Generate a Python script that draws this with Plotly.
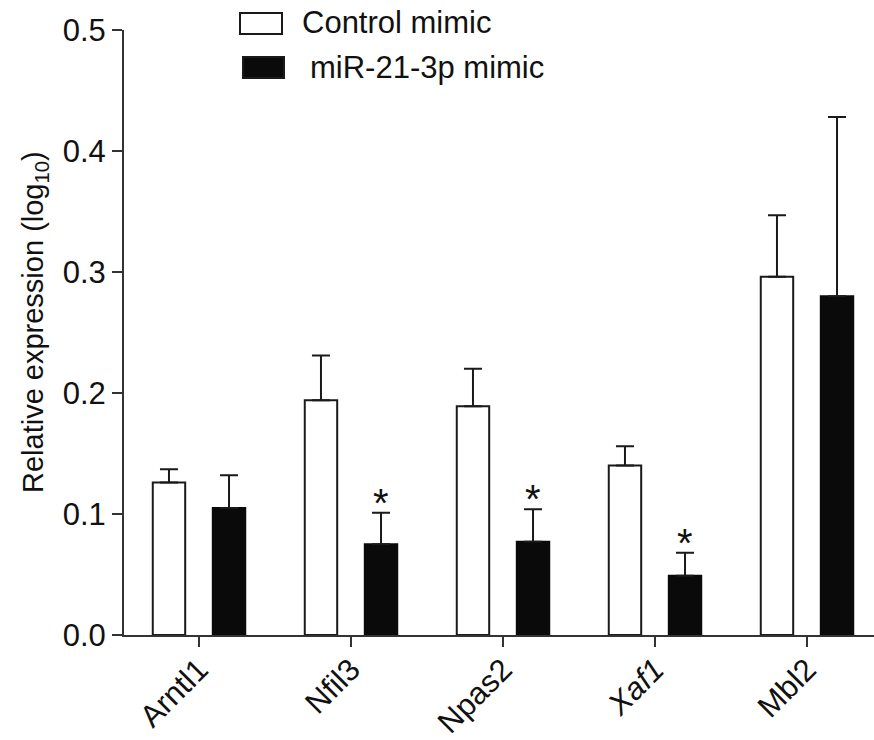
import plotly.graph_objects as go

# Gene categories and tick labels (Xaf1 rendered in italics)
genes = ["Arntl1", "Nfil3", "Npas2", "Xaf1", "Mbl2"]
gene_labels = ["Arntl1", "Nfil3", "Npas2", "<i>Xaf1</i>", "Mbl2"]

# Mean relative expression (log10) and upper SEM per group
control_mean = [0.126, 0.194, 0.189, 0.140, 0.296]
control_err = [0.011, 0.037, 0.031, 0.016, 0.051]
mir_mean = [0.105, 0.075, 0.077, 0.049, 0.280]
mir_err = [0.027, 0.026, 0.027, 0.019, 0.148]

# Significance marks over the miR-21-3p mimic bars
significance = ["", "*", "*", "*", ""]

FONT = "Liberation Sans, Arial, Helvetica, sans-serif"
INK = "#111111"
W, H = 874, 740
L, R, T, B = 124, 0, 30, 105

x_idx = list(range(len(genes)))

fig = go.Figure()
fig.add_trace(go.Bar(
    name="Control mimic", x=x_idx, y=control_mean,
    marker=dict(color="white", line=dict(color="#1a1a1a", width=2)),
    error_y=dict(type="data", symmetric=False, array=control_err,
                 arrayminus=[0] * len(genes), color="#1a1a1a",
                 thickness=2, width=9),
))
fig.add_trace(go.Bar(
    name="miR-21-3p mimic", x=x_idx, y=mir_mean,
    marker=dict(color="#0a0a0a", line=dict(color="#0a0a0a", width=2)),
    error_y=dict(type="data", symmetric=False, array=mir_err,
                 arrayminus=[0] * len(genes), color="#1a1a1a",
                 thickness=2, width=9),
))

# Asterisks above the error caps of significant bars
for i, mark in enumerate(significance):
    if mark:
        fig.add_annotation(
            x=i, y=mir_mean[i] + mir_err[i], xref="x", yref="y",
            text=mark, showarrow=False, xshift=30, yshift=-14,
            xanchor="center", yanchor="bottom",
            font=dict(family=FONT, size=40, color=INK),
        )

# Legend drawn as boxes + labels above the plot area
plot_w, plot_h = W - L - R, H - T - B


def px_x(p):
    return (p - L) / plot_w


def px_y(p):
    return (H - B - p) / plot_h


legend_items = [
    ("Control mimic", "white", (240, 282, 13, 34), 300, 23),
    ("miR-21-3p mimic", "#0a0a0a", (243, 284, 57, 78), 308, 67),
]
for label, fill, (x0, x1, y0, y1), tx, ty in legend_items:
    fig.add_shape(type="rect", xref="paper", yref="paper",
                  x0=px_x(x0), x1=px_x(x1), y0=px_y(y1), y1=px_y(y0),
                  fillcolor=fill, line=dict(color="#1a1a1a", width=2))
    fig.add_annotation(x=px_x(tx), y=px_y(ty), xref="paper", yref="paper",
                       text=label, showarrow=False, xanchor="left",
                       yanchor="middle",
                       font=dict(family=FONT, size=31, color=INK))

# Y-axis title placed as a rotated annotation left of the tick labels
fig.add_annotation(
    x=px_x(35), y=px_y(322), xref="paper", yref="paper",
    text="Relative expression (log<sub>10</sub>)", textangle=-90,
    showarrow=False, xanchor="center", yanchor="middle",
    font=dict(family=FONT, size=29, color=INK),
)

cat_px = 152
x0_range = -(199 - L) / cat_px
fig.update_layout(
    width=W, height=H,
    margin=dict(l=L, r=R, t=T, b=B, pad=0, autoexpand=False),
    paper_bgcolor="white", plot_bgcolor="white",
    barmode="group", bargap=0.21, bargroupgap=0.46,
    showlegend=False,
    font=dict(family=FONT, color=INK),
    xaxis=dict(
        range=[x0_range, x0_range + plot_w / cat_px],
        tickmode="array", tickvals=x_idx, ticktext=gene_labels,
        tickangle=-45, tickfont=dict(size=31, family=FONT, color=INK),
        ticklabelstandoff=-8,
        showline=True, linecolor="#333333", linewidth=2,
        ticks="outside", ticklen=10, tickwidth=2, tickcolor="#333333",
        showgrid=False, zeroline=False, fixedrange=True, automargin=False,
    ),
    yaxis=dict(
        range=[0, 0.5], tickmode="array",
        tickvals=[0.0, 0.1, 0.2, 0.3, 0.4, 0.5],
        ticktext=["0.0", "0.1", "0.2", "0.3", "0.4", "0.5"],
        tickfont=dict(size=31, family=FONT, color=INK),
        showline=True, linecolor="#333333", linewidth=2,
        ticks="outside", ticklen=10, tickwidth=2, tickcolor="#333333",
        showgrid=False, zeroline=False, fixedrange=True, automargin=False,
    ),
)

fig.write_html("out.html")
